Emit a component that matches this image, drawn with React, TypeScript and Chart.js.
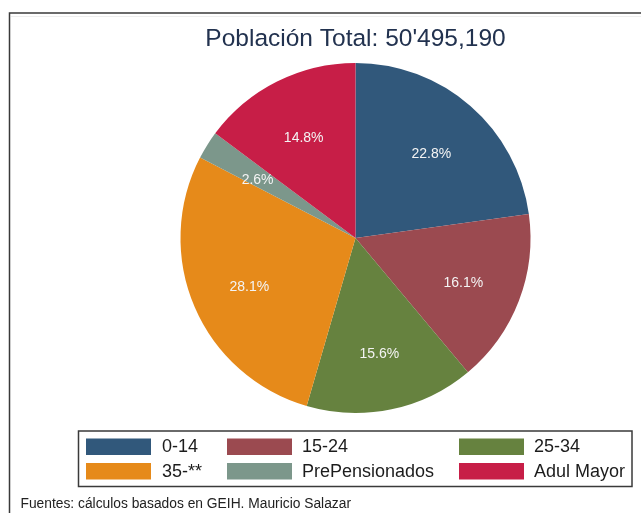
import React, { useEffect, useRef } from "react";
import Chart from "chart.js/auto";

const categories = ["0-14", "15-24", "25-34", "35-**", "PrePensionados", "Adul Mayor"];
const shares = [22.8, 16.1, 15.6, 28.1, 2.6, 14.8];
const sliceColors = ["#31587b", "#9b4a50", "#66823f", "#e68a1a", "#7c978b", "#c71e47"];
const titleText = "Población Total: 50'495,190";
const sourceNote = "Fuentes: cálculos basados en GEIH. Mauricio Salazar";

const FONT = "'Liberation Sans', Arial, Helvetica, sans-serif";

const decorPlugin = {
  id: "decor",
  beforeDraw(chart: any) {
    const ctx = chart.ctx;
    const W = chart.width;
    const H = chart.height;
    ctx.save();
    ctx.fillStyle = "#ffffff";
    ctx.fillRect(0, 0, W, H);
    ctx.strokeStyle = "#eeeeee";
    ctx.lineWidth = 1;
    ctx.beginPath();
    ctx.moveTo(11, 16.5);
    ctx.lineTo(W, 16.5);
    ctx.stroke();
    ctx.strokeStyle = "#3a3a3a";
    ctx.lineWidth = 1.5;
    ctx.beginPath();
    ctx.moveTo(9.5, H);
    ctx.lineTo(9.5, 13);
    ctx.lineTo(W, 13);
    ctx.stroke();
    ctx.restore();
  },
  afterDatasetsDraw(chart: any) {
    const ctx = chart.ctx;
    const meta = chart.getDatasetMeta(0);
    const values = chart.data.datasets[0].data as number[];
    ctx.save();
    ctx.font = `14px ${FONT}`;
    ctx.fillStyle = "#f4f4f4";
    ctx.textAlign = "center";
    ctx.textBaseline = "middle";
    meta.data.forEach((arc: any, i: number) => {
      const p = arc.getProps(["x", "y", "startAngle", "endAngle", "outerRadius"], true);
      const mid = (p.startAngle + p.endAngle) / 2;
      const r = p.outerRadius * 0.66;
      ctx.fillText(values[i].toFixed(1) + "%", p.x + Math.cos(mid) * r, p.y + Math.sin(mid) * r + 3.5);
    });
    ctx.restore();
  },
  afterDraw(chart: any) {
    const ctx = chart.ctx;
    const labels = chart.data.labels as string[];
    const colors = chart.data.datasets[0].backgroundColor as string[];
    ctx.save();
    ctx.font = `24.5px ${FONT}`;
    ctx.fillStyle = "#22324f";
    ctx.textAlign = "center";
    ctx.textBaseline = "middle";
    ctx.fillText(titleText, 355.5, 39);

    ctx.strokeStyle = "#3a3a3a";
    ctx.lineWidth = 1.5;
    ctx.strokeRect(78.5, 431, 553.5, 55.5);
    const swatchX = [86, 227, 459];
    const textX = [162, 302, 534];
    const rowTop = [438.5, 463];
    ctx.font = `18px ${FONT}`;
    ctx.textAlign = "left";
    labels.forEach((lab, i) => {
      const row = Math.floor(i / 3);
      const col = i % 3;
      ctx.fillStyle = colors[i];
      ctx.fillRect(swatchX[col], rowTop[row], 65, 16.5);
      ctx.fillStyle = "#1c1c1c";
      ctx.fillText(lab, textX[col], rowTop[row] + 9);
    });

    ctx.font = `13.8px ${FONT}`;
    ctx.fillStyle = "#222222";
    ctx.fillText(sourceNote, 20.5, 504);
    ctx.restore();
  },
};

export default function App() {
  const ref = useRef<HTMLCanvasElement>(null);
  useEffect(() => {
    if (!ref.current) return;
    const chart = new Chart(ref.current, {
      type: "pie",
      data: {
        labels: categories,
        datasets: [
          {
            data: shares,
            backgroundColor: sliceColors,
            borderWidth: 0,
          },
        ],
      },
      options: {
        responsive: false,
        animation: false,
        devicePixelRatio: 1,
        layout: { padding: { left: 180.5, right: 110.5, top: 63, bottom: 100 } },
        plugins: {
          legend: { display: false },
          title: { display: false },
          tooltip: { enabled: false },
        },
      },
      plugins: [decorPlugin],
    });
    return () => chart.destroy();
  }, []);
  return (
    <div style={{ position: "absolute", left: 0, top: 0, width: 641, height: 513 }}>
      <canvas ref={ref} width={641} height={513} style={{ width: 641, height: 513, display: "block" }} />
    </div>
  );
}
